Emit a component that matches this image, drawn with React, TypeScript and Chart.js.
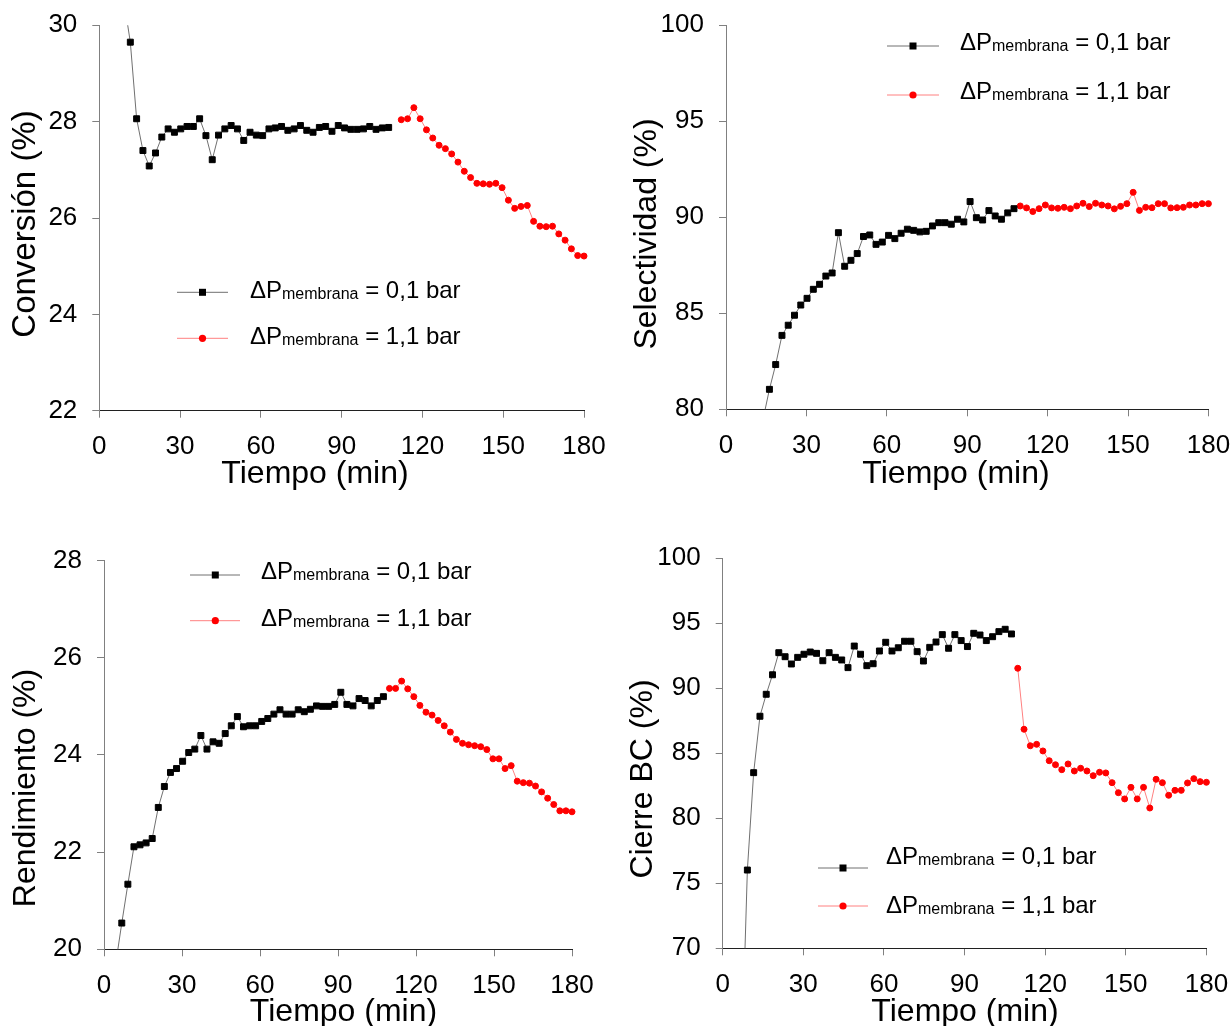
import React, { useEffect, useRef } from 'react';
import { Chart, registerables } from 'chart.js';

Chart.register(...registerables);

const FONT = "'Liberation Sans', Arial, Helvetica, sans-serif";

// Sampling times (min), shared by every panel
const TIME = [
  4.5, 6.84, 9.18, 11.52, 13.86, 16.2, 18.54, 20.88, 23.22, 25.56, 27.9, 30.24, 32.58, 34.92, 37.26, 39.6,
  41.94, 44.28, 46.62, 48.96, 51.3, 53.64, 55.98, 58.32, 60.66, 63, 65.34, 67.68, 70.02, 72.36, 74.7, 77.04,
  79.38, 81.72, 84.06, 86.4, 88.74, 91.08, 93.42, 95.76, 98.1, 100.44, 102.78, 105.12, 107.46, 109.8, 112.14,
  114.48, 116.82, 119.16, 121.5, 123.84, 126.18, 128.52, 130.86, 133.2, 135.54, 137.88, 140.22, 142.56, 144.9,
  147.24, 149.58, 151.92, 154.26, 156.6, 158.94, 161.28, 163.62, 165.96, 168.3, 170.64, 172.98, 175.32, 177.66, 180,
];

const X_TICKS = [0, 30, 60, 90, 120, 150, 180];

// Conversión (%)
const CONV_01_START = 2;
const CONV_01 = [
  30.5, 29.65, 28.06, 27.4, 27.08, 27.35, 27.68, 27.85, 27.78, 27.85, 27.9, 27.9, 28.06, 27.71, 27.21, 27.72,
  27.85, 27.92, 27.85, 27.61, 27.78, 27.72, 27.71, 27.85, 27.87, 27.9, 27.82, 27.85, 27.92, 27.82, 27.78, 27.88,
  27.9, 27.8, 27.92, 27.87, 27.84, 27.84, 27.85, 27.9, 27.84, 27.87, 27.88,
];
const CONV_11_START = 46;
const CONV_11 = [
  28.04, 28.06, 28.29, 28.06, 27.83, 27.66, 27.51, 27.44, 27.33, 27.16, 26.97, 26.84, 26.72, 26.71, 26.7,
  26.72, 26.63, 26.37, 26.2, 26.24, 26.26, 25.93, 25.83, 25.82, 25.83, 25.67, 25.54, 25.36, 25.22, 25.21,
];
const CONV_TICKS = [22, 24, 26, 28, 30];

// Selectividad (%)
const SEL_01_START = 4;
const SEL_01 = [
  79.5, 81.04, 82.33, 83.85, 84.38, 84.9, 85.43, 85.78, 86.25, 86.51, 86.94, 87.1, 89.2, 87.45, 87.76, 88.11,
  89.0, 89.08, 88.59, 88.71, 89.06, 88.89, 89.17, 89.38, 89.32, 89.24, 89.27, 89.55, 89.72, 89.72, 89.64, 89.9,
  89.76, 90.82, 89.98, 89.86, 90.35, 90.07, 89.9, 90.23, 90.45,
];
const SEL_11_START = 45;
const SEL_11 = [
  90.59, 90.49, 90.3, 90.45, 90.64, 90.49, 90.47, 90.52, 90.45, 90.59, 90.73, 90.56, 90.73, 90.64, 90.59,
  90.44, 90.57, 90.71, 91.3, 90.36, 90.52, 90.5, 90.71, 90.71, 90.49, 90.5, 90.52, 90.64, 90.64, 90.71, 90.71,
];
const SEL_TICKS = [80, 85, 90, 95, 100];

// Rendimiento (%)
const REND_01_START = 0;
const REND_01 = [
  19.7, 20.54, 21.34, 22.11, 22.15, 22.19, 22.28, 22.92, 23.35, 23.64, 23.72, 23.87, 24.05, 24.12, 24.4, 24.12,
  24.27, 24.24, 24.44, 24.6, 24.79, 24.58, 24.6, 24.6, 24.69, 24.75, 24.84, 24.93, 24.84, 24.84, 24.93, 24.89,
  24.94, 25.01, 25.0, 25.0, 25.04, 25.29, 25.04, 25.01, 25.16, 25.12, 25.01, 25.12, 25.2,
];
const REND_11_START = 45;
const REND_11 = [
  25.37, 25.37, 25.52, 25.36, 25.2, 25.02, 24.88, 24.82, 24.71, 24.6, 24.47, 24.32, 24.24, 24.21, 24.19,
  24.17, 24.11, 23.92, 23.92, 23.72, 23.78, 23.46, 23.43, 23.42, 23.36, 23.24, 23.11, 22.98, 22.85, 22.85, 22.83,
];
const REND_TICKS = [20, 22, 24, 26, 28];

// Cierre BC (%)
const CBC_01_START = 1;
const CBC_01 = [
  60, 76.02, 83.51, 87.85, 89.54, 91.04, 92.74, 92.43, 91.87, 92.38, 92.62, 92.79, 92.69, 92.12, 92.74, 92.38,
  92.18, 91.59, 93.25, 92.62, 91.74, 91.89, 92.87, 93.54, 92.87, 93.12, 93.62, 93.62, 92.82, 92.1, 93.15, 93.56,
  94.13, 93.08, 94.13, 93.67, 93.21, 94.23, 94.1, 93.67, 93.97, 94.36, 94.54, 94.18,
];
const CBC_11_START = 45;
const CBC_11 = [
  91.54, 86.85, 85.58, 85.69, 85.18, 84.43, 84.12, 83.74, 84.18, 83.64, 83.85, 83.64, 83.28, 83.54, 83.49,
  82.74, 81.97, 81.49, 82.38, 81.49, 82.38, 80.79, 83.0, 82.74, 81.77, 82.15, 82.15, 82.72, 83.05, 82.82, 82.77,
];
const CBC_TICKS = [70, 75, 80, 85, 90, 95, 100];

const X_TITLE = 'Tiempo (min)';
const Y_TITLES = ['Conversión (%)', 'Selectividad (%)', 'Rendimiento (%)', 'Cierre BC (%)'];
const LEGEND_MAIN = 'ΔP';
const LEGEND_SUB = 'membrana';
const LEGEND_VALUES = ['= 0,1 bar', '= 1,1 bar'];

type Box = { left: number; top: number; w: number; h: number };
type Area = { l: number; t: number; r: number; b: number };
type Leg = { x0: number; x1: number; mx: number; tx: number; my: number[]; by: number[] };
type PanelDef = {
  canvas: Box;
  area: Area;
  yTicks: number[];
  s1: number[];
  s1Start: number;
  s2: number[];
  s2Start: number;
  yTitle: string;
  yTitleSize: number;
  yTitlePos: [number, number];
  xTitlePos: [number, number];
  legend: Leg;
};

const PANELS: PanelDef[] = [
  {
    canvas: { left: 0, top: 0, w: 616, h: 513 },
    area: { l: 99.3, t: 25.3, r: 584, b: 410.7 },
    yTicks: CONV_TICKS, s1: CONV_01, s1Start: CONV_01_START, s2: CONV_11, s2Start: CONV_11_START,
    yTitle: Y_TITLES[0], yTitleSize: 33, yTitlePos: [26, 224], xTitlePos: [315, 474],
    legend: { x0: 177, x1: 228, mx: 202.5, tx: 250, my: [292.3, 338.3], by: [298.3, 344.3] },
  },
  {
    canvas: { left: 616, top: 0, w: 616, h: 513 },
    area: { l: 726, t: 25.3, r: 1208.4, b: 409.3 },
    yTicks: SEL_TICKS, s1: SEL_01, s1Start: SEL_01_START, s2: SEL_11, s2Start: SEL_11_START,
    yTitle: Y_TITLES[1], yTitleSize: 32, yTitlePos: [647, 234], xTitlePos: [956, 474],
    legend: { x0: 887, x1: 939, mx: 913, tx: 960, my: [46, 95], by: [50, 98.5] },
  },
  {
    canvas: { left: 0, top: 513, w: 616, h: 513 },
    area: { l: 104, t: 560.6, r: 572, b: 949.3 },
    yTicks: REND_TICKS, s1: REND_01, s1Start: REND_01_START, s2: REND_11, s2Start: REND_11_START,
    yTitle: Y_TITLES[2], yTitleSize: 32, yTitlePos: [26, 788], xTitlePos: [343.5, 1012],
    legend: { x0: 190, x1: 240, mx: 215.3, tx: 261, my: [575, 620.7], by: [579, 625.7] },
  },
  {
    canvas: { left: 616, top: 513, w: 616, h: 513 },
    area: { l: 722.7, t: 558.3, r: 1206.4, b: 948.3 },
    yTicks: CBC_TICKS, s1: CBC_01, s1Start: CBC_01_START, s2: CBC_11, s2Start: CBC_11_START,
    yTitle: Y_TITLES[3], yTitleSize: 32, yTitlePos: [643, 779], xTitlePos: [965, 1012],
    legend: { x0: 818, x1: 868, mx: 843, tx: 886, my: [868, 906], by: [864, 913] },
  },
];

const BLACK_LINE = '#707070';
const RED_LINE = '#ff8080';
const TICK_SIZE = 26;
const TITLE_SIZE = 32;
const LEG_SIZE = 24;
const SUB_SIZE = 16;

function drawMarker(ctx: CanvasRenderingContext2D, kind: number, x: number, y: number) {
  ctx.save();
  if (kind === 0) {
    ctx.fillStyle = '#000';
    ctx.fillRect(x - 3.5, y - 3.5, 7, 7);
  } else {
    ctx.fillStyle = '#ff0000';
    ctx.beginPath();
    ctx.arc(x, y, 3.6, 0, Math.PI * 2);
    ctx.fill();
  }
  ctx.restore();
}

function PanelChart({ p }: { p: PanelDef }) {
  const ref = useRef<HTMLCanvasElement | null>(null);
  useEffect(() => {
    if (!ref.current) return;
    const cv = p.canvas;
    const ox = cv.left;
    const oy = cv.top;
    const yMin = p.yTicks[0];
    const yMax = p.yTicks[p.yTicks.length - 1];

    const overlay = {
      id: 'overlay',
      afterDraw(chart: any) {
        const ctx: CanvasRenderingContext2D = chart.ctx;
        ctx.save();
        ctx.fillStyle = '#000';
        // x title
        ctx.font = `${TITLE_SIZE}px ${FONT}`;
        ctx.textAlign = 'center';
        ctx.textBaseline = 'middle';
        ctx.fillText(X_TITLE, p.xTitlePos[0] - ox, p.xTitlePos[1] - oy);
        // y title
        ctx.save();
        ctx.font = `${p.yTitleSize}px ${FONT}`;
        ctx.translate(p.yTitlePos[0] - ox, p.yTitlePos[1] - oy);
        ctx.rotate(-Math.PI / 2);
        ctx.fillText(p.yTitle, 0, 0);
        ctx.restore();
        // legend
        const lg = p.legend;
        for (let i = 0; i < 2; i++) {
          const my = lg.my[i] - oy;
          ctx.strokeStyle = i === 0 ? BLACK_LINE : RED_LINE;
          ctx.lineWidth = 1;
          ctx.beginPath();
          ctx.moveTo(lg.x0 - ox, my);
          ctx.lineTo(lg.x1 - ox, my);
          ctx.stroke();
          drawMarker(ctx, i, lg.mx - ox, my);
          const by = lg.by[i] - oy;
          let x = lg.tx - ox;
          ctx.textAlign = 'left';
          ctx.textBaseline = 'alphabetic';
          ctx.fillStyle = '#000';
          ctx.font = `${LEG_SIZE}px ${FONT}`;
          ctx.fillText(LEGEND_MAIN, x, by);
          x += ctx.measureText(LEGEND_MAIN).width;
          ctx.font = `${SUB_SIZE}px ${FONT}`;
          ctx.fillText(LEGEND_SUB, x, by + 1);
          x += ctx.measureText(LEGEND_SUB).width;
          ctx.font = `${LEG_SIZE}px ${FONT}`;
          x += ctx.measureText(' ').width;
          ctx.fillText(LEGEND_VALUES[i], x, by);
        }
        ctx.restore();
      },
    };

    const mk = (vals: number[], start: number) => vals.map((v, i) => ({ x: TIME[start + i], y: v }));

    const zeroPad = (s: any) => {
      s.paddingTop = 0;
      s.paddingBottom = 0;
      s.paddingLeft = 0;
      s.paddingRight = 0;
    };

    const chart = new Chart(ref.current, {
      type: 'line',
      data: {
        datasets: [
          {
            label: LEGEND_VALUES[0],
            data: mk(p.s1, p.s1Start),
            borderColor: BLACK_LINE,
            borderWidth: 1,
            backgroundColor: '#000',
            pointStyle: 'rect',
            pointRadius: 4.2,
            pointBorderWidth: 1,
            pointBorderColor: '#000',
            pointBackgroundColor: '#000',
            tension: 0,
            clip: { left: 6, right: 6, top: 0, bottom: 0 } as any,
          },
          {
            label: LEGEND_VALUES[1],
            data: mk(p.s2, p.s2Start),
            borderColor: RED_LINE,
            borderWidth: 1,
            backgroundColor: '#ff0000',
            pointStyle: 'circle',
            pointRadius: 3,
            pointBorderWidth: 1,
            pointBorderColor: '#ff0000',
            pointBackgroundColor: '#ff0000',
            tension: 0,
            clip: { left: 6, right: 6, top: 0, bottom: 0 } as any,
          },
        ],
      },
      options: {
        responsive: false,
        animation: false,
        devicePixelRatio: 1,
        layout: {
          autoPadding: false,
          padding: {
            left: 0,
            top: p.area.t - oy,
            right: ox + cv.w - p.area.r,
            bottom: 0,
          },
        },
        plugins: { legend: { display: false }, tooltip: { enabled: false }, title: { display: false } },
        events: [],
        scales: {
          x: {
            type: 'linear',
            position: 'bottom',
            min: 0,
            max: 180,
            afterBuildTicks: (s: any) => {
              s.ticks = X_TICKS.map((v) => ({ value: v }));
            },
            afterFit: (s: any) => {
              s.height = oy + cv.h - p.area.b;
              zeroPad(s);
            },
            ticks: {
              color: '#000',
              font: { family: FONT, size: TICK_SIZE },
              padding: 14,
              maxRotation: 0,
              autoSkip: false,
            },
            grid: { drawOnChartArea: false, drawTicks: true, tickLength: 7, color: '#808080' },
            border: { display: true, color: '#202020', width: 1 },
          },
          y: {
            type: 'linear',
            position: 'left',
            min: yMin,
            max: yMax,
            afterBuildTicks: (s: any) => {
              s.ticks = p.yTicks.map((v) => ({ value: v }));
            },
            afterFit: (s: any) => {
              s.width = p.area.l - ox;
              zeroPad(s);
            },
            ticks: {
              color: '#000',
              font: { family: FONT, size: TICK_SIZE },
              padding: 15,
              autoSkip: false,
            },
            grid: { drawOnChartArea: false, drawTicks: true, tickLength: 7, color: '#808080' },
            border: { display: true, color: '#808080', width: 1 },
          },
        },
      },
      plugins: [overlay],
    } as any);
    return () => chart.destroy();
  }, [p]);

  return (
    <canvas
      ref={ref}
      width={p.canvas.w}
      height={p.canvas.h}
      style={{
        position: 'absolute',
        left: p.canvas.left,
        top: p.canvas.top,
        width: p.canvas.w,
        height: p.canvas.h,
      }}
    />
  );
}

export default function App() {
  return (
    <div
      style={{
        position: 'fixed',
        left: 0,
        top: 0,
        width: 1232,
        height: 1026,
        overflow: 'hidden',
        background: '#fff',
      }}
    >
      {PANELS.map((p, i) => (
        <PanelChart key={i} p={p} />
      ))}
    </div>
  );
}
